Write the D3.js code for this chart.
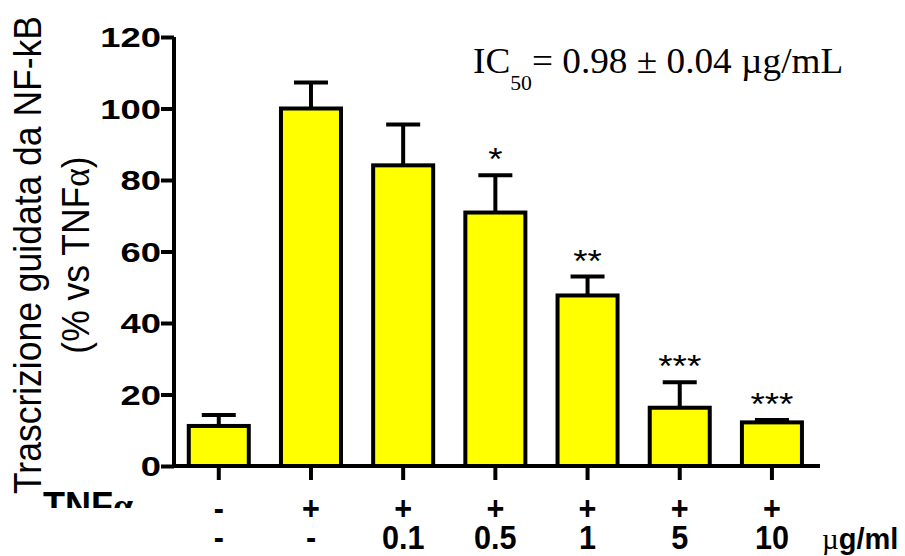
<!DOCTYPE html>
<html>
<head>
<meta charset="utf-8">
<script src="https://cdn.jsdelivr.net/npm/d3@7/dist/d3.min.js"></script>
<style>
  html, body { margin: 0; padding: 0; background: #fff; }
  svg { display: block; }
</style>
</head>
<body>
<svg id="chart" width="905" height="556"></svg>
<script>
// NF-kB driven transcription, % of TNFα alone
const groups      = ["ctrl", "tnf", "c0.1", "c0.5", "c1", "c5", "c10"];
const means       = [11.2, 100, 84.1, 70.9, 47.7, 16.3, 12.2];
const sem         = [3.1, 7.3, 11.4, 10.4, 5.3, 7.1, 0.7];
const stars       = ["", "", "", "*", "**", "***", "***"];
const tnfRow      = ["-", "+", "+", "+", "+", "+", "+"];
const doseRow     = ["-", "-", "0.1", "0.5", "1", "5", "10"];
const yTicks      = [0, 20, 40, 60, 80, 100, 120];

const svg = d3.select("#chart");

const x = d3.scaleBand()
  .domain(groups)
  .range([174, 820])
  .paddingInner(0.349)
  .paddingOuter(0.178)
  .align(0.45);

const y = d3.scaleLinear().domain([0, 120]).range([466, 37]);

const sans = "'Liberation Sans', Arial, sans-serif";
const serif = "'Liberation Serif', 'Times New Roman', serif";
const W = 4;

// bars
svg.append("g").selectAll("rect")
  .data(groups)
  .join("rect")
  .attr("x", d => x(d))
  .attr("y", (d, i) => y(means[i]))
  .attr("width", x.bandwidth())
  .attr("height", (d, i) => y(0) - y(means[i]))
  .attr("fill", "#ffff00")
  .attr("stroke", "#000")
  .attr("stroke-width", W);

// error bars (upper only)
const cx = d => x(d) + x.bandwidth() / 2;
const eb = svg.append("g").attr("stroke", "#000").attr("stroke-width", W);
groups.forEach((g, i) => {
  eb.append("line")
    .attr("x1", cx(g)).attr("x2", cx(g))
    .attr("y1", y(means[i])).attr("y2", y(means[i] + sem[i]));
  eb.append("line")
    .attr("x1", cx(g) - 17).attr("x2", cx(g) + 17)
    .attr("y1", y(means[i] + sem[i])).attr("y2", y(means[i] + sem[i]));
});

// significance stars
svg.append("g").selectAll("text")
  .data(groups)
  .join("text")
  .attr("transform", (d, i) => `translate(${cx(d)},${y(means[i] + sem[i]) - 5}) scale(1.15,1)`)
  .attr("text-anchor", "middle")
  .attr("font-family", sans)
  .attr("font-size", 32)
  .text((d, i) => stars[i]);

// y axis
const yAxis = svg.append("g")
  .attr("transform", "translate(174,0)")
  .call(d3.axisLeft(y).tickValues(yTicks).tickSize(13).tickSizeOuter(0).tickFormat(""));
yAxis.select(".domain").attr("stroke-width", W).attr("d", `M0,${y(120)}V${y(0) + 2}`);
yAxis.selectAll(".tick line").attr("stroke-width", W);

svg.append("g").selectAll("text")
  .data(yTicks)
  .join("text")
  .attr("transform", d => `translate(161,${y(d)}) scale(1.3,1)`)
  .attr("text-anchor", "end")
  .attr("dy", "0.36em")
  .attr("font-family", sans)
  .attr("font-weight", "bold")
  .attr("font-size", 28)
  .text(d => d);

// x axis
const xAxis = svg.append("g")
  .attr("transform", `translate(0,${y(0)})`)
  .call(d3.axisBottom(x).tickSize(14).tickSizeOuter(0).tickFormat(""));
xAxis.select(".domain").attr("stroke-width", W).attr("d", "M172,0H820");
xAxis.selectAll(".tick line").attr("stroke-width", W);

// treatment rows
const rowText = (vals, yy) => svg.append("g").selectAll("text")
  .data(groups)
  .join("text")
  .attr("transform", (d) => `translate(${cx(d)},${yy}) scale(0.9,1)`)
  .attr("text-anchor", "middle")
  .attr("font-family", sans)
  .attr("font-weight", "bold")
  .attr("font-size", 34)
  .text((d, i) => vals[i]);
rowText(tnfRow, 520);
rowText(doseRow, 548.5);

svg.append("text")
  .attr("x", 822).attr("y", 548.5)
  .attr("font-size", 29)
  .attr("font-weight", "bold")
  .attr("font-family", sans)
  .call(t => {
    t.append("tspan").attr("font-family", serif).attr("font-weight", "normal").text("µ");
    t.append("tspan").text("g/ml");
  });

// TNFα row label (lower part hidden)
svg.append("clipPath").attr("id", "tnfClip")
  .append("rect").attr("x", 0).attr("y", 470).attr("width", 160).attr("height", 38);
svg.append("text")
  .attr("clip-path", "url(#tnfClip)")
  .attr("x", 43).attr("y", 518)
  .attr("font-family", sans)
  .attr("font-weight", "bold")
  .attr("font-size", 36)
  .call(t => {
    t.append("tspan").text("TNF");
    t.append("tspan").attr("font-family", serif).text("α");
  });

// y axis title
const title = svg.append("g").attr("font-family", sans).attr("font-size", 35.5);
title.append("text")
  .attr("transform", "translate(41,255) scale(1.08,1) rotate(-90)")
  .attr("text-anchor", "middle")
  .text("Trascrizione guidata da NF-kB");
title.append("text")
  .attr("transform", "translate(89,255) scale(1.08,1) rotate(-90)")
  .attr("text-anchor", "middle")
  .call(t => {
    t.append("tspan").text("(% vs TNF");
    t.append("tspan").attr("font-family", serif).text("α");
    t.append("tspan").text(")");
  });

// IC50 annotation
const ic = svg.append("text")
  .attr("transform", "translate(473,73) scale(1.035,1)")
  .attr("font-family", serif)
  .attr("font-size", 36);
ic.append("tspan").text("IC");
ic.append("tspan").attr("font-size", 21).attr("dy", 17).text("50");
ic.append("tspan").attr("dy", -17).text("= 0.98 ± 0.04 µg/mL");
</script>
</body>
</html>
